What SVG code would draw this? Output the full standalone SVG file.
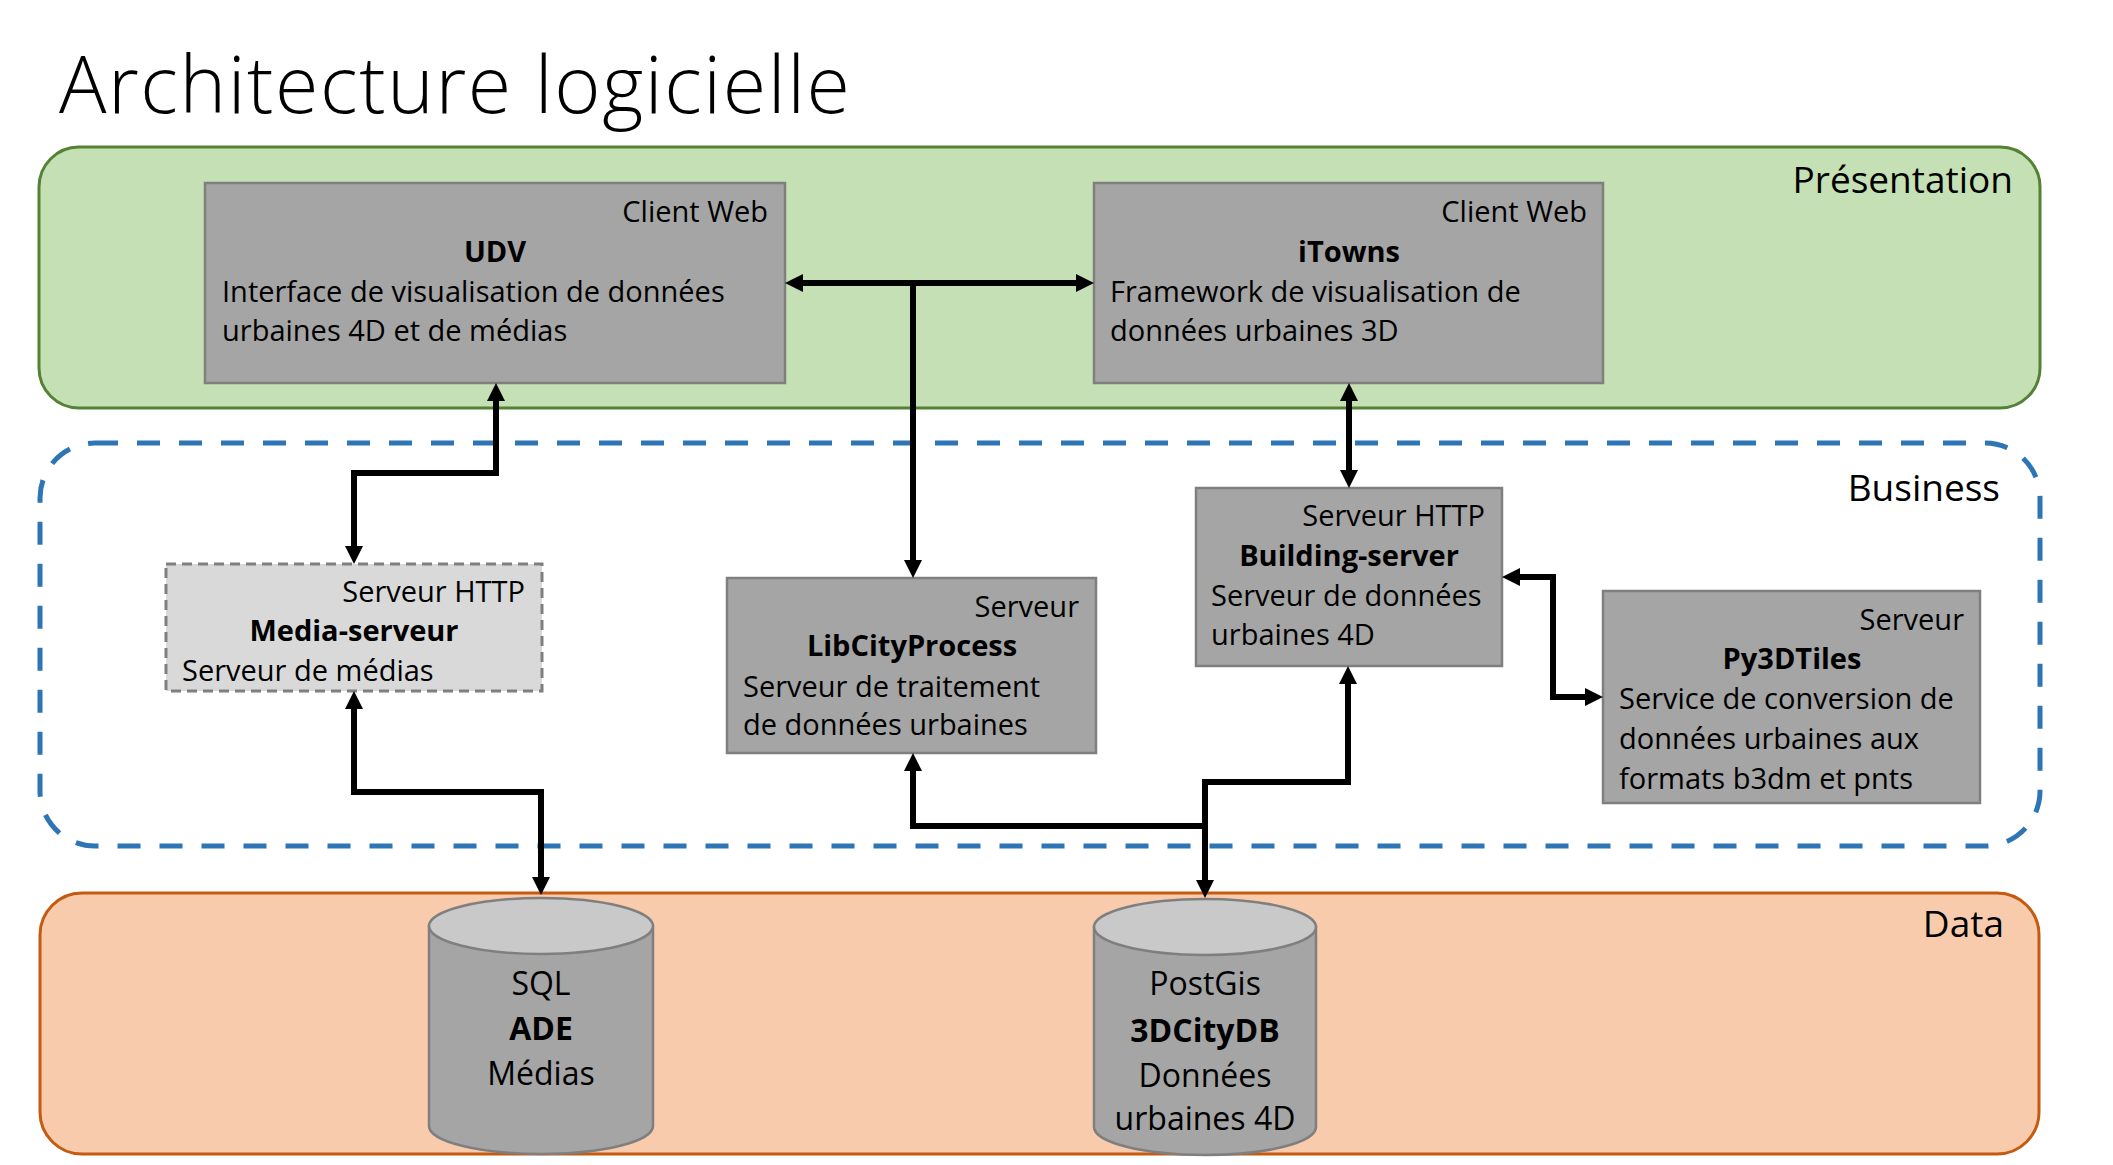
<svg xmlns="http://www.w3.org/2000/svg" width="2113" height="1165" viewBox="0 0 2113 1165">
<style>
text{font-family:"Open Sans","Liberation Sans",sans-serif;fill:#000}
.t{font-size:29px}
.b{font-size:29px;font-weight:700}
.r{text-anchor:end}
.c{text-anchor:middle}
.lay{font-size:37px}
.cy{font-size:32px;text-anchor:middle}
.box{fill:#a5a5a5;stroke:#7f7f7f;stroke-width:2.5}
.cyl{fill:#a5a5a5;stroke:#7f7f7f;stroke-width:2.5}
.cyltop{fill:#c9c9c9;stroke:#7f7f7f;stroke-width:2.5}
.con{fill:none;stroke:#000;stroke-width:6;stroke-linejoin:miter}
</style>
<defs>
<marker id="ah" markerUnits="userSpaceOnUse" markerWidth="18" markerHeight="18" viewBox="0 0 18 18" refX="4" refY="9" orient="auto-start-reverse">
<path d="M0,0 L18,9 L0,18 Z" fill="#000"/>
</marker>
</defs>
<rect width="2113" height="1165" fill="#fff"/>
<text x="59" y="113" style="font-size:79px;font-weight:300" textLength="791">Architecture logicielle</text>

<g id="layer-presentation">
<rect x="39" y="147" width="2001" height="261" rx="40" ry="40" fill="#c5e0b4" stroke="#548235" stroke-width="3"/>
<text class="lay r" x="2013" y="193">Présentation</text>
</g>
<g id="layer-business">
<rect x="40" y="443" width="2000" height="403" rx="55" ry="55" fill="none" stroke="#2e75b6" stroke-width="5" stroke-dasharray="23 19"/>
<text class="lay r" x="2000" y="501">Business</text>
</g>
<g id="layer-data">
<rect x="40" y="893" width="1999" height="261" rx="42" ry="42" fill="#f8cbad" stroke="#c55a11" stroke-width="3"/>
<text class="lay r" x="2004" y="937">Data</text>
</g>

<g id="udv">
<rect class="box" x="205" y="183" width="580" height="200"/>
<text class="t r" x="768" y="222">Client Web</text>
<text class="b c" x="495" y="262">UDV</text>
<text class="t" x="222" y="302">Interface de visualisation de données</text>
<text class="t" x="222" y="341">urbaines 4D et de médias</text>
</g>
<g id="itowns">
<rect class="box" x="1094" y="183" width="509" height="200"/>
<text class="t r" x="1587" y="222">Client Web</text>
<text class="b c" x="1349" y="262">iTowns</text>
<text class="t" x="1110" y="302">Framework de visualisation de</text>
<text class="t" x="1110" y="341">données urbaines 3D</text>
</g>
<g id="media-serveur">
<rect x="166" y="564" width="376" height="127" fill="#d9d9d9" stroke="#7f7f7f" stroke-width="3" stroke-dasharray="10 6"/>
<text class="t r" x="525" y="602">Serveur HTTP</text>
<text class="b c" x="354" y="641">Media-serveur</text>
<text class="t" x="182" y="681">Serveur de médias</text>
</g>
<g id="libcityprocess">
<rect class="box" x="727" y="578" width="369" height="175"/>
<text class="t r" x="1079" y="617">Serveur</text>
<text class="b c" x="912" y="656">LibCityProcess</text>
<text class="t" x="743" y="697">Serveur de traitement</text>
<text class="t" x="743" y="735">de données urbaines</text>
</g>
<g id="building-server">
<rect class="box" x="1196" y="488" width="306" height="178"/>
<text class="t r" x="1485" y="526">Serveur HTTP</text>
<text class="b c" x="1349" y="566">Building-server</text>
<text class="t" x="1211" y="606">Serveur de données</text>
<text class="t" x="1211" y="645">urbaines 4D</text>
</g>
<g id="py3dtiles">
<rect class="box" x="1603" y="591" width="377" height="212"/>
<text class="t r" x="1964" y="630">Serveur</text>
<text class="b c" x="1792" y="669">Py3DTiles</text>
<text class="t" x="1619" y="709">Service de conversion de</text>
<text class="t" x="1619" y="749">données urbaines aux</text>
<text class="t" x="1619" y="789">formats b3dm et pnts</text>
</g>
<g id="ade">
<path class="cyl" d="M429,926 V1126 A112,28 0 0 0 653,1126 V926 Z"/>
<ellipse class="cyltop" cx="541" cy="926" rx="112" ry="28"/>
<text class="cy" x="541" y="995">SQL</text>
<text class="cy" x="541" y="1040" font-weight="700">ADE</text>
<text class="cy" x="541" y="1085">Médias</text>
</g>
<g id="citydb">
<path class="cyl" d="M1094,927 V1127 A111,28 0 0 0 1316,1127 V927 Z"/>
<ellipse class="cyltop" cx="1205" cy="927" rx="111" ry="28"/>
<text class="cy" x="1205" y="995">PostGis</text>
<text class="cy" x="1205" y="1042" font-weight="700">3DCityDB</text>
<text class="cy" x="1205" y="1087">Données</text>
<text class="cy" x="1205" y="1130">urbaines 4D</text>
</g>

<g id="connectors">
<path class="con" d="M799,283 L1080,283" marker-start="url(#ah)" marker-end="url(#ah)"/>
<path class="con" d="M913,280 L913,564" marker-end="url(#ah)"/>
<path class="con" d="M496,397 L496,473 L354,473 L354,550" marker-start="url(#ah)" marker-end="url(#ah)"/>
<path class="con" d="M354,705 L354,792 L541,792 L541,881" marker-start="url(#ah)" marker-end="url(#ah)"/>
<path class="con" d="M1349,397 L1349,474" marker-start="url(#ah)" marker-end="url(#ah)"/>
<path class="con" d="M1516,577 L1553,577 L1553,697 L1589,697" marker-start="url(#ah)" marker-end="url(#ah)"/>
<path class="con" d="M1348,680 L1348,782 L1205,782 L1205,884" marker-start="url(#ah)" marker-end="url(#ah)"/>
<path class="con" d="M913,767 L913,826 L1208,826" marker-start="url(#ah)"/>
</g>
</svg>
